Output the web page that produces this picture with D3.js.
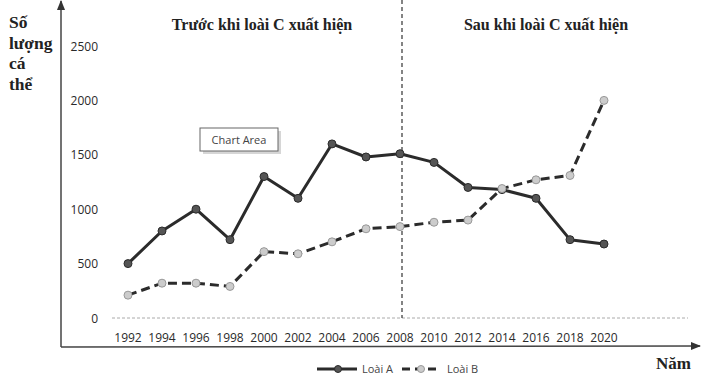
<!DOCTYPE html>
<html lang="vi">
<head>
<meta charset="utf-8">
<style>
  body { margin: 0; background: #fff; }
  svg { display: block; }
  .tick-label { font-family: 'Open Sans', 'Liberation Sans', Arial, sans-serif; font-size: 12px; fill: #2a2a2a; }
  .legend-label { font-family: 'Open Sans', 'Liberation Sans', Arial, sans-serif; font-size: 11px; fill: #444; }
  .serif { font-family: 'Liberation Serif', 'Times New Roman', serif; font-weight: bold; fill: #222; }
</style>
</head>
<body>
<svg id="chart" width="715" height="386"></svg>
<script src="https://cdn.jsdelivr.net/npm/d3@7"></script>
<script>
// data
const years = [1992, 1994, 1996, 1998, 2000, 2002, 2004, 2006, 2008, 2010, 2012, 2014, 2016, 2018, 2020];
const loaiA = [500, 800, 1000, 720, 1300, 1100, 1600, 1480, 1510, 1430, 1200, 1180, 1100, 720, 680];
const loaiB = [210, 320, 320, 290, 610, 590, 700, 820, 840, 880, 900, 1190, 1270, 1310, 2000];
const yTicks = [0, 500, 1000, 1500, 2000, 2500];
const yLabel = ["Số", "lượng", "cá", "thể"];
const splitYear = 2008;

const svg = d3.select("#chart");

const x = d3.scaleLinear().domain([1992, 2020]).range([128, 604]);
const y = d3.scaleLinear().domain([0, 2500]).range([318, 46]);

// axes frame with arrows
svg.append("defs").append("marker")
  .attr("id", "arrow")
  .attr("viewBox", "0 0 10 10")
  .attr("refX", 9).attr("refY", 5)
  .attr("markerWidth", 7).attr("markerHeight", 7)
  .attr("orient", "auto")
  .append("path").attr("d", "M0,1 L10,5 L0,9 Z").attr("fill", "#333");

svg.append("line")
  .attr("x1", 61).attr("y1", 347).attr("x2", 61).attr("y2", 1)
  .attr("stroke", "#444").attr("stroke-width", 1.5)
  .attr("marker-end", "url(#arrow)");
svg.append("line")
  .attr("x1", 61).attr("y1", 347).attr("x2", 700).attr("y2", 346)
  .attr("stroke", "#444").attr("stroke-width", 1.5)
  .attr("marker-end", "url(#arrow)");

// baseline gridline
svg.append("line")
  .attr("x1", 112).attr("x2", 688)
  .attr("y1", y(0)).attr("y2", y(0))
  .attr("stroke", "#aaa").attr("stroke-width", 1)
  .attr("stroke-dasharray", "3,2");

// y tick labels
svg.append("g").selectAll("text")
  .data(yTicks).join("text")
  .attr("class", "tick-label")
  .attr("x", 98).attr("y", d => y(d) + 4.5)
  .attr("text-anchor", "end")
  .text(d => d);

// x tick labels
svg.append("g").selectAll("text")
  .data(years).join("text")
  .attr("class", "tick-label")
  .attr("x", d => x(d)).attr("y", 342)
  .attr("text-anchor", "middle")
  .text(d => d);

// split line
svg.append("line")
  .attr("x1", x(splitYear) + 2).attr("x2", x(splitYear) + 2)
  .attr("y1", 0).attr("y2", y(0))
  .attr("stroke", "#333").attr("stroke-width", 1.2)
  .attr("stroke-dasharray", "4,3");

// section titles
svg.append("text").attr("class", "serif").attr("font-size", 16)
  .attr("x", 262).attr("y", 30).attr("text-anchor", "middle")
  .text("Trước khi loài C xuất hiện");
svg.append("text").attr("class", "serif").attr("font-size", 16)
  .attr("x", 546).attr("y", 30).attr("text-anchor", "middle")
  .text("Sau khi loài C xuất hiện");

// y label
svg.append("g").selectAll("text")
  .data(yLabel).join("text")
  .attr("class", "serif").attr("font-size", 17.5)
  .attr("x", 9).attr("y", (d, i) => 28 + i * 20.5)
  .text(d => d);

svg.append("text").attr("class", "serif").attr("font-size", 17)
  .attr("x", 656).attr("y", 369).text("Năm");

// series
const line = d3.line().x((d, i) => x(years[i])).y(d => y(d));

svg.append("path").datum(loaiA)
  .attr("d", line).attr("fill", "none")
  .attr("stroke", "#2b2b2b").attr("stroke-width", 3)
  .attr("stroke-linejoin", "round");
svg.append("path").datum(loaiB)
  .attr("d", line).attr("fill", "none")
  .attr("stroke", "#2b2b2b").attr("stroke-width", 3)
  .attr("stroke-dasharray", "9,5");

svg.append("g").selectAll("circle")
  .data(loaiA).join("circle")
  .attr("cx", (d, i) => x(years[i])).attr("cy", d => y(d))
  .attr("r", 4).attr("fill", "#555").attr("stroke", "#2b2b2b").attr("stroke-width", 1);
svg.append("g").selectAll("circle")
  .data(loaiB).join("circle")
  .attr("cx", (d, i) => x(years[i])).attr("cy", d => y(d))
  .attr("r", 4).attr("fill", "#ccc").attr("stroke", "#999").attr("stroke-width", 1);

// legend
const legend = svg.append("g").attr("transform", "translate(0,369)");
legend.append("line").attr("x1", 317).attr("x2", 357).attr("stroke", "#2b2b2b").attr("stroke-width", 3);
legend.append("circle").attr("cx", 338).attr("r", 3.5).attr("fill", "#555").attr("stroke", "#2b2b2b");
legend.append("text").attr("class", "legend-label").attr("x", 362).attr("y", 4).text("Loài A");
legend.append("line").attr("x1", 402).attr("x2", 440).attr("stroke", "#2b2b2b").attr("stroke-width", 3).attr("stroke-dasharray", "8,5");
legend.append("circle").attr("cx", 421).attr("r", 3.5).attr("fill", "#ccc").attr("stroke", "#999");
legend.append("text").attr("class", "legend-label").attr("x", 447).attr("y", 4).text("Loài B");

// "Chart Area" tooltip box
const tip = svg.append("g").attr("transform", "translate(200,128)");
tip.append("rect").attr("x", 3).attr("y", 3).attr("width", 78).attr("height", 23).attr("fill", "#bbb").attr("opacity", 0.6);
tip.append("rect").attr("width", 78).attr("height", 23).attr("fill", "#fff").attr("stroke", "#666").attr("stroke-width", 1);
tip.append("text").attr("class", "legend-label").attr("font-size", 12).attr("x", 39).attr("y", 16).attr("text-anchor", "middle").text("Chart Area");
</script>
</body>
</html>
